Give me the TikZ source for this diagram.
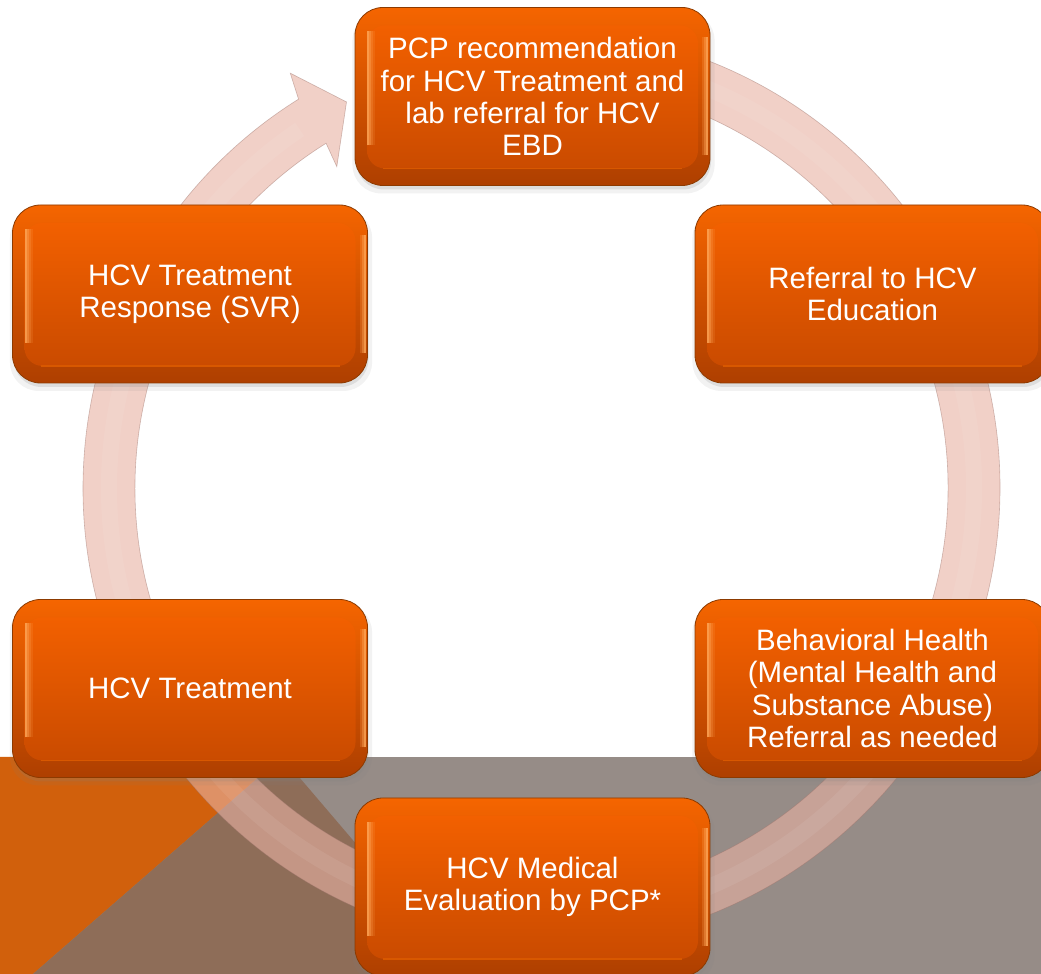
\documentclass[tikz,border=0pt]{standalone}
\usepackage{fontspec}
\newfontfamily\boxfont{Liberation Sans}
\usetikzlibrary{shadows}

\definecolor{bandgray}{HTML}{968C87}
\definecolor{bandbrown}{HTML}{8E6D58}
\definecolor{bandorange}{HTML}{D1600C}
\definecolor{ringfill}{HTML}{E8B2A3}
\definecolor{ringedge}{HTML}{9A7068}
\definecolor{rimtop}{HTML}{F56500}
\definecolor{rimbot}{HTML}{AE3F00}
\definecolor{rimline}{HTML}{8C3A00}
\definecolor{hilite}{HTML}{FFAA5C}
\definecolor{bodytop}{HTML}{F26000}
\definecolor{bodybot}{HTML}{CA4B00}
\definecolor{lipline}{HTML}{D85800}

\begin{document}
\begin{tikzpicture}[x=1pt,y=1pt,
  stepbox/.style={rectangle, rounded corners=28pt,
    minimum width=355pt, minimum height=178pt, inner sep=0pt,
    align=center, text=white,
    font=\boxfont\fontsize{29.5}{32.3}\selectfont,
    top color=rimtop, bottom color=rimbot, draw=rimline, line width=0.8pt,
    drop shadow={shadow xshift=1pt, shadow yshift=-6pt, opacity=0.10, shadow scale=1.02},
    drop shadow={shadow xshift=1pt, shadow yshift=-4pt, opacity=0.18},
    path picture={
      \begin{scope}[sharp corners]
        % inner face of the button
        \shade[rounded corners=18pt, top color=bodytop, bottom color=bodybot]
          ([xshift=12pt,yshift=17pt]path picture bounding box.south west) rectangle
          ([xshift=-12pt,yshift=-18pt]path picture bounding box.north east);
        % light lip along the bottom of the face
        \draw[lipline, line width=1.5pt]
          ([xshift=28pt,yshift=17pt]path picture bounding box.south west) --
          ([xshift=-28pt,yshift=17pt]path picture bounding box.south east);
        % bevel highlight on the left edge of the face
        \foreach \dx/\op in {1/0.80, 3/0.55, 5/0.32, 7/0.15}
          \draw[hilite, line width=2pt, opacity=\op]
            ([xshift={(12+\dx)*1pt}, yshift=40pt]path picture bounding box.south west) --
            ([xshift={(12+\dx)*1pt}, yshift=-24pt]path picture bounding box.north west);
        % bevel highlight on the right rim
        \foreach \dx/\op in {3/0.80, 5/0.50, 7/0.22}
          \draw[hilite, line width=2pt, opacity=\op]
            ([xshift={-\dx*1pt}, yshift=30pt]path picture bounding box.south east) --
            ([xshift={-\dx*1pt}, yshift=-30pt]path picture bounding box.north east);
      \end{scope}
    }},
  ringbody/.style={fill=ringfill, fill opacity=0.6, draw=ringedge, draw opacity=0.45, line width=0.6pt},
  ]

\useasboundingbox (0,0) rectangle (1041,974);
\clip (0,0) rectangle (1041,974);
\fill[white] (0,0) rectangle (1041,974);

% background band along the bottom
\fill[bandgray] (0,0) rectangle (1041,217);
\fill[bandorange] (0,217) -- (282,217) -- (33,0) -- (0,0) -- cycle;
\fill[bandbrown] (282,217) -- (467,0) -- (33,0) -- cycle;

% circular arrow running clockwise round the cycle
\begin{scope}[shift={(541.5,486)}]
  \filldraw[ringbody]
    (85:458.5) arc[start angle=85, end angle=-238, radius=458.5]
    -- (-238.8:485) -- (-243.2:432.5) -- (-237.5:381) -- (-238:406.5)
    arc[start angle=-238, end angle=85, radius=406.5] -- cycle;
  \draw[white, opacity=0.07, line width=16pt]
    (85:432.5) arc[start angle=85, end angle=-236, radius=432.5];
\end{scope}

% the six steps
\node[stepbox] (rec)   at (532.5,877.5) {PCP recommendation\\for HCV Treatment and\\lab referral for HCV\\EBD};
\node[stepbox] (edu)   at (872.5,680)   {Referral to HCV\\Education};
\node[stepbox] (bh)    at (872.5,285.5) {Behavioral Health\\(Mental Health and\\Substance Abuse)\\Referral as needed};
\node[stepbox] (eval)  at (532.5,87)    {HCV Medical\\Evaluation by PCP*};
\node[stepbox] (treat) at (190,285.5)   {HCV Treatment};
\node[stepbox] (svr)   at (190,680)     {HCV Treatment\\Response (SVR)};

\end{tikzpicture}
\end{document}
